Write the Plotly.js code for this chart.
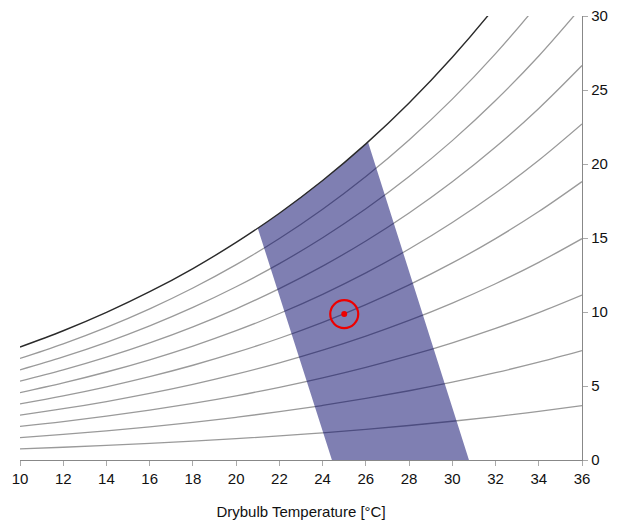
<!DOCTYPE html>
<html>
<head>
<meta charset="utf-8">
<script src="https://cdn.plot.ly/plotly-3.0.1.min.js"></script>
<style>html,body{margin:0;padding:0;background:#fff;}#chart{width:621px;height:523px;}</style>
</head>
<body>
<div id="chart"></div>
<script>
// Drybulb temperatures (°C)
const temps = [10,12,14,16,18,20,22,24,26,28,30,32,34,36];
// Humidity ratio (g/kg) along relative humidity lines
const rh10  = [0.755,0.862,0.983,1.119,1.270,1.439,1.628,1.838,2.072,2.331,2.618,2.936,3.286,3.673];
const rh20  = [1.512,1.727,1.969,2.241,2.545,2.885,3.265,3.687,4.158,4.680,5.258,5.899,6.607,7.389];
const rh30  = [2.270,2.594,2.959,3.368,3.826,4.338,4.910,5.548,6.257,7.046,7.921,8.890,9.964,11.150];
const rh40  = [3.030,3.464,3.951,4.498,5.111,5.798,6.564,7.419,8.371,9.430,10.606,11.911,13.356,14.956];
const rh50  = [3.793,4.336,4.947,5.633,6.402,7.264,8.227,9.301,10.499,11.832,13.315,14.960,16.785,18.808];
const rh60  = [4.557,5.210,5.946,6.772,7.699,8.737,9.898,11.195,12.642,14.253,16.046,18.039,20.252,22.707];
const rh70  = [5.323,6.087,6.948,7.915,9.001,10.217,11.579,13.100,14.799,16.692,18.801,21.148,23.756,26.654];
const rh80  = [6.091,6.966,7.953,9.062,10.308,11.704,13.268,15.017,16.971,19.151,21.580,24.287,27.299,30.649];
const rh90  = [6.860,7.848,8.961,10.213,11.620,13.198,14.967,16.945,19.157,21.628,24.384,27.456,30.881,34.694];
const rh100 = [7.632,8.732,9.973,11.369,12.938,14.700,16.674,18.886,21.359,24.124,27.212,30.658,34.502,38.789];
// Comfort zone outline
const zoneX = [24.43,21.0,22.0,23.0,24.0,25.0,26.0,26.1,30.77,24.43];
const zoneY = [0,15.66,16.67,17.75,18.89,20.09,21.36,21.49,0,0];
// Current state point
const pointX = [25];
const pointY = [9.86];
const xTicks = [10,12,14,16,18,20,22,24,26,28,30,32,34,36];
const yTicks = [0,5,10,15,20,25,30];

const rhLines = [rh10,rh20,rh30,rh40,rh50,rh60,rh70,rh80,rh90];
const traces = rhLines.map(ys => ({
  x: temps, y: ys, type: 'scatter', mode: 'lines',
  line: {color: '#9a9a9a', width: 1.3, shape: 'spline'},
  hoverinfo: 'skip', showlegend: false
}));
traces.push({
  x: zoneX, y: zoneY, type: 'scatter', mode: 'lines', fill: 'toself',
  fillcolor: 'rgba(0,0,102,0.5)', line: {width: 0, color: 'rgba(0,0,0,0)'},
  hoverinfo: 'skip', showlegend: false
});
traces.push({
  x: temps, y: rh100, type: 'scatter', mode: 'lines',
  line: {color: '#2a2a2a', width: 1.4, shape: 'spline'},
  hoverinfo: 'skip', showlegend: false
});
traces.push({
  x: pointX, y: pointY, type: 'scatter', mode: 'markers',
  marker: {symbol: 'circle-open', size: 28, color: '#ee0000', line: {width: 2.2, color: '#ee0000'}},
  showlegend: false
});
traces.push({
  x: pointX, y: pointY, type: 'scatter', mode: 'markers',
  marker: {symbol: 'circle', size: 6, color: '#ee0000'},
  showlegend: false
});

const layout = {
  width: 621, height: 523,
  margin: {l: 20, r: 39, t: 16, b: 63},
  paper_bgcolor: '#fff', plot_bgcolor: '#fff',
  font: {family: 'Liberation Sans, Arial, sans-serif', size: 15, color: '#111'},
  xaxis: {
    range: [10, 36], tickvals: xTicks, ticks: 'outside', ticklen: 5, tickcolor: '#aaa',
    showline: true, linecolor: '#888', linewidth: 1.2, showgrid: false, zeroline: false,
    title: {text: 'Drybulb Temperature [°C]', font: {size: 15}, standoff: 20},
    fixedrange: true
  },
  yaxis: {
    range: [0, 30], tickvals: yTicks, side: 'right', ticks: 'outside', ticklen: 5, tickcolor: '#aaa',
    showline: true, linecolor: '#888', linewidth: 1.2, showgrid: false, zeroline: false,
    fixedrange: true
  }
};
Plotly.newPlot('chart', traces, layout, {displayModeBar: false, staticPlot: true});
</script>
</body>
</html>
